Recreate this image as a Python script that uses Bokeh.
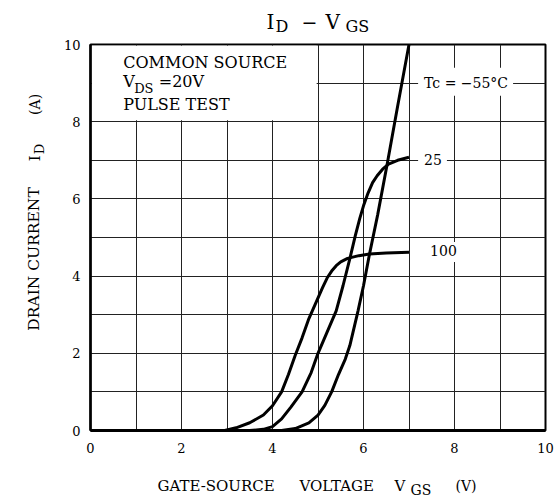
import math
from bokeh.plotting import figure
from bokeh.layouts import column, row
from bokeh.models import Label, Range1d, SingleIntervalTicker
from bokeh.embed import file_html
from bokeh.resources import INLINE

# ---- data ----
vgs_m55 = [4.2, 4.5, 4.8, 5.0, 5.15, 5.3, 5.45, 5.6, 5.7, 5.88, 6.0, 6.13, 6.31, 6.52, 6.75, 7.0]
id_m55 = [0.0, 0.05, 0.2, 0.4, 0.65, 1.0, 1.45, 1.85, 2.2, 3.1, 3.75, 4.56, 5.58, 6.9, 8.4, 10.0]

vgs_25 = [3.5, 3.8, 4.0, 4.2, 4.4, 4.65, 4.85, 5.0, 5.2, 5.4, 5.55, 5.7, 5.82, 5.92, 6.0, 6.1, 6.2, 6.3, 6.42, 6.55, 6.75, 7.0]
id_25 = [0.0, 0.03, 0.1, 0.3, 0.6, 1.0, 1.5, 2.0, 2.55, 3.1, 3.75, 4.45, 5.05, 5.5, 5.82, 6.15, 6.42, 6.6, 6.77, 6.9, 7.0, 7.08]

vgs_100 = [2.95, 3.2, 3.5, 3.8, 4.0, 4.2, 4.35, 4.5, 4.65, 4.8, 4.95, 5.1, 5.2, 5.3, 5.4, 5.5, 5.65, 5.9, 6.13, 6.5, 7.0]
id_100 = [0.0, 0.07, 0.2, 0.4, 0.64, 1.0, 1.45, 1.95, 2.4, 2.9, 3.3, 3.7, 3.95, 4.13, 4.27, 4.37, 4.46, 4.53, 4.57, 4.6, 4.62]

x_ticks = [0, 2, 4, 6, 8, 10]
y_ticks = [0, 2, 4, 6, 8, 10]
curve_labels = ["Tc = \u221255\u00b0C", "25", "100"]

FONT = "DejaVu Serif"
SHIFT = 0.4   # measured offset of the rendered baseline, in em

# ---- layout geometry (picture pixels) ----
TOTAL_W = 554
TOP_H = 37          # title strip
MID_H = 433         # y 37 .. 470
BOT_H = 28          # x-label strip, y 470 .. 498
LEFT_W = 60         # y-label strip
MAIN_W = TOTAL_W - LEFT_W
PX_PER_A = (430 - 44) / 10.0


def text_fig(w, h):
    f = figure(width=w, height=h, output_backend="svg", toolbar_location=None,
               x_range=Range1d(0, w), y_range=Range1d(0, h),
               x_axis_location=None, y_axis_location=None, min_border=0)
    f.xgrid.visible = False
    f.ygrid.visible = False
    f.outline_line_color = None
    f.background_fill_color = "white"
    f.border_fill_color = "white"
    return f


def put(f, x0, y0, h, text, px, py, size, angle=0.0):
    if angle:
        px -= SHIFT * size
    else:
        py -= SHIFT * size
    f.add_layout(Label(x=px - x0, y=h - (py - y0), text=text, text_font=FONT,
                       text_font_size=f"{size}px", text_color="black",
                       text_baseline="alphabetic", text_align="left", angle=angle))


# ---- title strip ----
ft = text_fig(TOTAL_W, TOP_H)
put(ft, 0, 0, TOP_H, "I", 266, 29, 20)
put(ft, 0, 0, TOP_H, "D", 275, 32.5, 16)
put(ft, 0, 0, TOP_H, "\u2212", 301, 29, 19)
put(ft, 0, 0, TOP_H, "V", 325, 29, 20)
put(ft, 0, 0, TOP_H, "GS", 345, 32.5, 16)

# ---- y-label strip ----
fl = text_fig(LEFT_W, MID_H)
rot = math.pi / 2
put(fl, 0, TOP_H, MID_H, "DRAIN CURRENT", 40, 358, 15.5, rot)
put(fl, 0, TOP_H, MID_H, "I", 40, 168, 15, rot)
put(fl, 0, TOP_H, MID_H, "D", 44, 160, 13, rot)
put(fl, 0, TOP_H, MID_H, "(A)", 40, 116, 14, rot)

# ---- main chart ----
p = figure(width=MAIN_W, height=MID_H, output_backend="svg", toolbar_location=None,
           x_range=Range1d(0, 10), y_range=Range1d(0, 10),
           min_border_left=88 - LEFT_W, min_border_right=TOTAL_W - 545,
           min_border_top=44 - TOP_H, min_border_bottom=TOP_H + MID_H - 430)
p.background_fill_color = "white"
p.border_fill_color = "white"
p.outline_line_color = "black"
p.outline_line_width = 2

for ax in (p.xaxis, p.yaxis):
    ax.major_tick_line_color = None
    ax.minor_tick_line_color = None
    ax.major_label_text_font = FONT
    ax.major_label_text_font_size = "13px"
    ax.major_label_text_color = "black"
    ax.axis_line_color = "black"
p.xaxis.ticker = x_ticks
p.yaxis.ticker = y_ticks
p.xaxis.axis_line_width = 3
p.yaxis.axis_line_width = 2.5
p.xaxis.major_label_standoff = 6
p.yaxis.major_label_standoff = 4

p.xgrid.ticker = SingleIntervalTicker(interval=1)
p.ygrid.ticker = SingleIntervalTicker(interval=1)
for g in (p.xgrid, p.ygrid):
    g.grid_line_color = "#222222"
    g.grid_line_width = 1

# white box for the conditions text (hides the grid there)
p.quad(left=[0.03], right=[4.97], bottom=[8.04], top=[9.97], fill_color="white", line_color=None)

for xs, ys in ((vgs_m55, id_m55), (vgs_25, id_25), (vgs_100, id_100)):
    p.line(xs, ys, line_width=3, line_color="black")


def dlabel(text, x, y, size, **kw):
    y += SHIFT * size / PX_PER_A
    p.add_layout(Label(x=x, y=y, text=text, text_font=FONT, text_font_size=f"{size}px",
                       text_color="black", text_baseline="alphabetic", **kw))


# curve labels with white backgrounds
dlabel(curve_labels[0], vgs_m55[-1] + 0.2, 8.89, 14, background_fill_color="white", padding=(6, 5, 7, 5))
dlabel(curve_labels[1], vgs_25[-1] + 0.2, 6.89, 14, background_fill_color="white", padding=(6, 5, 6, 5))
dlabel(curve_labels[2], vgs_100[-1] + 0.2, 4.48, 14, background_fill_color="white", padding=(12, 6, 3, 6))

# conditions text
dlabel("COMMON SOURCE", 0.72, 9.37, 16)
dlabel("V", 0.72, 8.87, 16)
dlabel("DS", 0.96, 8.72, 13)
dlabel("=20V", 1.5, 8.87, 16)
dlabel("PULSE TEST", 0.72, 8.29, 16)

# ---- x-label strip ----
fb = text_fig(TOTAL_W, BOT_H)
y0b = TOP_H + MID_H
put(fb, 0, y0b, BOT_H, "GATE-SOURCE", 157, 491, 15)
put(fb, 0, y0b, BOT_H, "VOLTAGE", 299, 491, 15)
put(fb, 0, y0b, BOT_H, "V", 394, 491, 15)
put(fb, 0, y0b, BOT_H, "GS", 410, 495, 14)
put(fb, 0, y0b, BOT_H, "(V)", 455, 491, 14)

layout = column(ft, row(fl, p, spacing=0), fb, spacing=0)

open("out.html", "w").write(file_html(layout, INLINE))
